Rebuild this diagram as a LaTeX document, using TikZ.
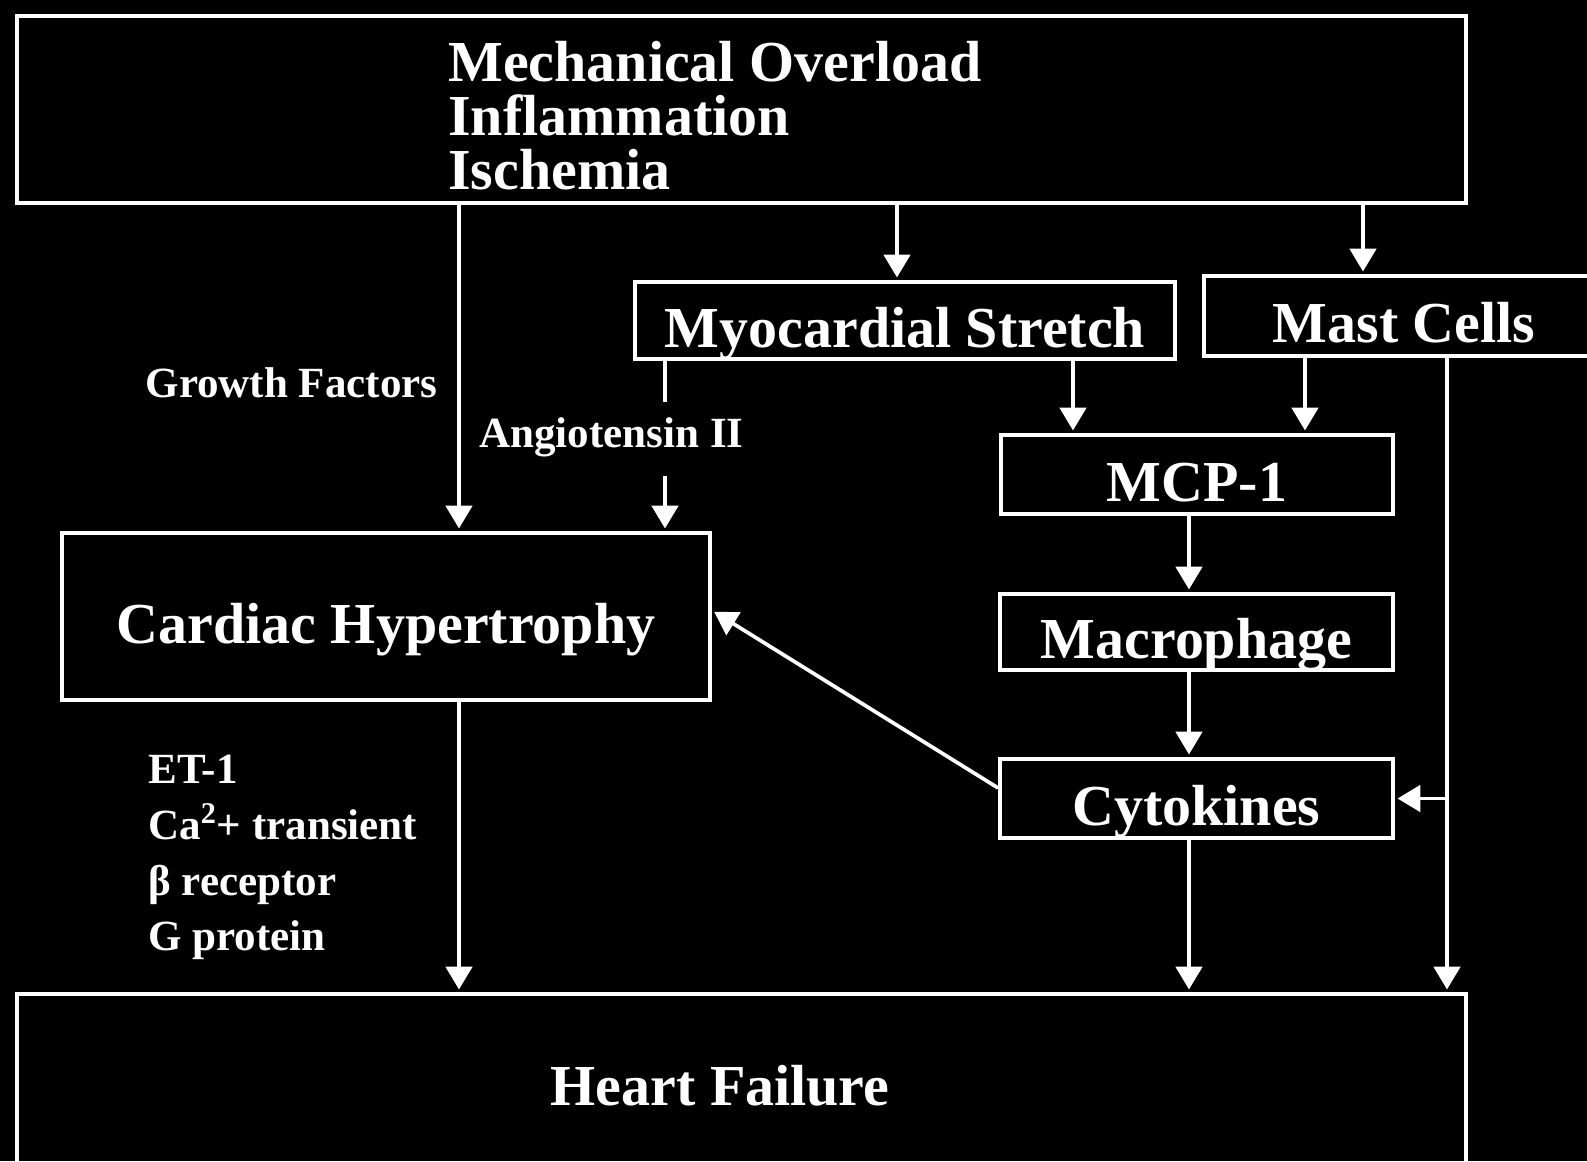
\documentclass[tikz,border=0pt]{standalone}
\usepackage{fontspec}
\setmainfont{Liberation Serif}
\usetikzlibrary{arrows.meta}
\begin{document}
\begin{tikzpicture}[x=0.02cm,y=-0.02cm,
  every node/.style={text=white},
  box/.style={draw=white, line width=2.2pt, inner sep=0pt, text height=30.6pt, text depth=0pt,
    font=\bfseries\fontsize{33}{36}\selectfont},
  bigtxt/.style={inner sep=0pt, font=\bfseries\fontsize{33}{30.6}\selectfont},
  lbl/.style={inner sep=0pt, font=\bfseries\fontsize{24.5}{31.7}\selectfont},
  arr/.style={draw=white, line width=2.1pt, shorten >=1.5pt, -{Triangle[length=13pt,width=15pt]}},
  lnk/.style={draw=white, line width=2.1pt}]
\fill[black] (0,0) rectangle (1587,1161);
\useasboundingbox (0,0) rectangle (1587,1161);

% boxes
\node[box, minimum width=28.98cm, minimum height=3.74cm] (top) at (741.5,109.5) {};
\node[bigtxt, anchor=north west, align=left] (toptxt) at (448,41) {Mechanical Overload\\Inflammation\\Ischemia};
\node[box, minimum width=10.8cm, minimum height=1.54cm] (myo) at (905,320.5) {Myocardial Stretch};
\node[box, minimum width=8cm, minimum height=1.6cm] (mast) at (1404,316) {Mast Cells};
\node[box, minimum width=7.84cm, minimum height=1.58cm] (mcp) at (1197,474.5) {MCP-1};
\node[box, minimum width=7.86cm, minimum height=1.52cm] (mac) at (1196.5,632) {Macrophage};
\node[box, minimum width=7.86cm, minimum height=1.58cm] (cyt) at (1196.5,798.5) {Cytokines};
\node[box, minimum width=12.96cm, minimum height=3.34cm] (card) at (386,616.5) {Cardiac Hypertrophy};
\node[box, minimum width=28.98cm, minimum height=4.12cm] (hf) at (741.5,1097) {};
\node[bigtxt, anchor=base] (hftxt) at (720,1105) {Heart Failure};

% labels
\node[lbl, anchor=base east] (gf) at (438,397) {Growth Factors};
\node[lbl, anchor=base west] (ang) at (479,447) {Angiotensin II};
\node[lbl, anchor=north west, align=left] (et) at (148,755) {ET-1\\Ca\textsuperscript{2}+ transient\\β receptor\\G protein};

% coordinates for vertical connectors
\coordinate (x1) at (459,0);
\coordinate (x2) at (897,0);
\coordinate (x3) at (1363,0);
\coordinate (x5) at (1073,0);
\coordinate (x6) at (1305,0);
\coordinate (x7) at (1189,0);
\coordinate (x10) at (1447,0);
\coordinate (a1) at (665,402);
\coordinate (a2) at (665,476);

% connectors
\draw[arr] (top.south -| x1) -- (card.north -| x1);
\draw[arr] (top.south -| x2) -- (myo.north -| x2);
\draw[arr] (top.south -| x3) -- (mast.north -| x3);
\draw[lnk] (myo.south -| a1) -- (a1);
\draw[arr] (a2) -- (card.north -| a2);
\draw[arr] (myo.south -| x5) -- (mcp.north -| x5);
\draw[arr] (mast.south -| x6) -- (mcp.north -| x6);
\draw[arr] (mcp.south -| x7) -- (mac.north -| x7);
\draw[arr] (mac.south -| x7) -- (cyt.north -| x7);
\draw[arr] (cyt.south -| x7) -- (hf.north -| x7);
\draw[arr] (mast.south -| x10) -- (hf.north -| x10);
\draw[arr] (cyt.east -| x10) -- (cyt.east);
\draw[arr] ([yshift=6pt]cyt.west) -- ([yshift=3.5pt]card.east);
\draw[arr] (card.south -| x1) -- (hf.north -| x1);
\end{tikzpicture}
\end{document}
